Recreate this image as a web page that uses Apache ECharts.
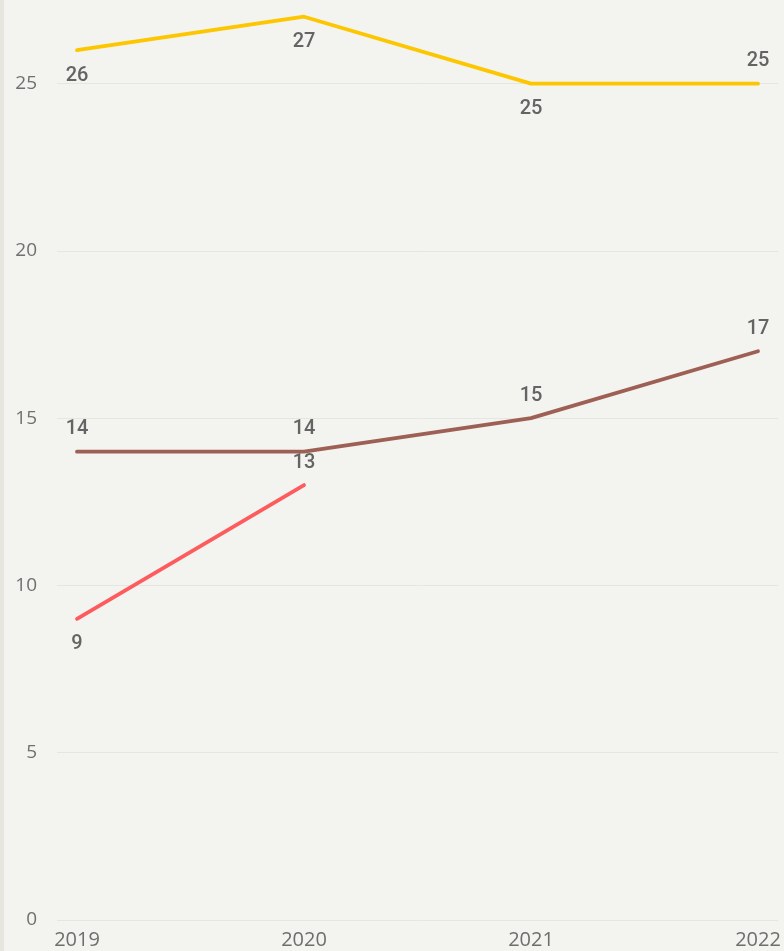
<!DOCTYPE html>
<html>
<head>
<meta charset="utf-8">
<script src="https://cdn.jsdelivr.net/npm/echarts@6/dist/echarts.min.js"></script>
<style>
  html, body { margin: 0; padding: 0; background: #f3f3ef; }
  #chart { width: 784px; height: 951px; box-sizing: border-box; border-left: 4px solid #e6e6df; }
</style>
</head>
<body>
<div id="chart"></div>
<script>
// Years on the horizontal axis
const years = [2019, 2020, 2021, 2022];
// Series values per year (null = no value)
const yellowValues = [26, 27, 25, 25];
const brownValues = [14, 14, 15, 17];
const redValues = [9, 13, null, null];
// Value axis ticks
const yTicks = [0, 5, 10, 15, 20, 25];

// Which side of the point each value label sits on
const yellowSides = ['bottom', 'bottom', 'bottom', 'top'];
const brownSides = ['top', 'top', 'top', 'top'];
const redSides = ['bottom', 'top', 'top', 'top'];

const chart = echarts.init(document.getElementById('chart'), null, { renderer: 'canvas' });

function buildData(values, sides) {
  const out = [];
  values.forEach((v, i) => {
    if (v === null) return;
    out.push({
      value: [years[i], v],
      label: { position: sides[i], distance: sides[i] === 'top' ? 12 : 15 }
    });
  });
  return out;
}

function lineSeries(name, values, sides, color) {
  return {
    name: name,
    type: 'line',
    data: buildData(values, sides),
    symbol: 'circle',
    symbolSize: 1,
    showSymbol: true,
    itemStyle: { color: 'rgba(0,0,0,0)' },
    lineStyle: { color: color, width: 3.8, cap: 'round', join: 'round' },
    label: {
      show: true,
      fontFamily: 'Roboto',
      fontWeight: 500,
      fontSize: 20,
      color: '#646464',
      formatter: p => String(p.value[1])
    },
    emphasis: { disabled: true },
    animation: false
  };
}

// Extra padding on both ends of the year axis
const pad = 20 / 227;

chart.setOption({
  backgroundColor: '#f3f3ef',
  animation: false,
  grid: { left: 53, right: 6, top: 0, bottom: 31, containLabel: false },
  xAxis: {
    type: 'value',
    min: years[0] - pad,
    max: years[years.length - 1] + pad,
    axisLine: { show: false },
    axisTick: { show: false },
    splitLine: { show: false },
    axisLabel: {
      customValues: years,
      formatter: v => String(v),
      margin: 10,
      fontFamily: 'Open Sans',
      fontSize: 20,
      color: '#6e6e6e'
    }
  },
  yAxis: {
    type: 'value',
    min: 0,
    max: 27.5,
    interval: 5,
    axisLine: { show: false },
    axisTick: { show: false },
    splitLine: {
      show: true,
      showMaxLine: false,
      lineStyle: { color: '#e6e6e1', width: 1 }
    },
    axisLabel: {
      customValues: yTicks,
      margin: 20,
      fontFamily: 'Open Sans',
      fontSize: 19,
      color: '#707070'
    }
  },
  series: [
    lineSeries('A', yellowValues, yellowSides, '#fcc700'),
    lineSeries('B', brownValues, brownSides, '#9e5f55'),
    lineSeries('C', redValues, redSides, '#fd5c5e')
  ]
});
</script>
</body>
</html>
